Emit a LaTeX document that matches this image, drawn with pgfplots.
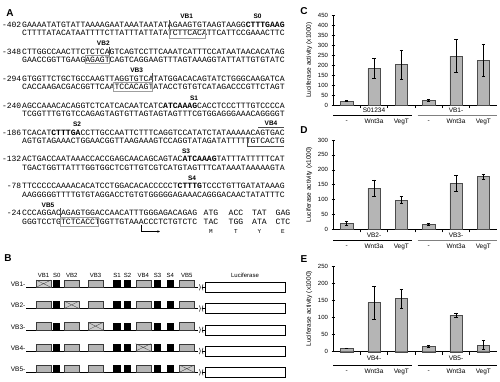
\documentclass[border=0pt]{standalone}
\usepackage{pgfplots}
\pgfplotsset{compat=1.18}
\usepackage{fontspec}
\setmainfont{Liberation Sans}
\newfontfamily\seqfont{Liberation Mono}
\usetikzlibrary{arrows.meta}
\newcommand\fs[1]{\fontsize{#1}{#1}\selectfont}
\newcommand\seqline[4]{%
  \node[anchor=base east,inner sep=0,font=\seqfont\fs{8}] at (21.5,{#1+2.4}) {#2};
  \node[anchor=base west,inner sep=0,font=\seqfont\fs{8.1}] at (22,{#1+2.4}) {#3};
  \node[anchor=base west,inner sep=0,font=\seqfont\fs{8.1}] at (22,{#1+10.9}) {#4};}
\pgfplotsset{
  lucbar/.style={
    scale only axis, width=164pt, clip=false,
    xmin=-0.5, xmax=5.5, ymin=0,
    axis x line=bottom, axis y line=left,
    axis line style={-, line width=0.6pt},
    xtick={0.5,1.5,2.5,3.5,4.5}, xticklabels={},
    tick align=center, major tick length=3pt,
    tick style={black, line width=0.5pt},
    /pgf/number format/assume math mode=true,
    yticklabel style={font=\fs{6}},
    ylabel={Luciferase activity (x1000)},
    every axis y label/.style={at={(axis description cs:-0.145,0.5)}, rotate=90, anchor=center, font=\fs{6.5}},
    ybar, bar width=12.5pt,
  },
  lucplot/.style={fill=gray!58, draw=black!70, line width=0.4pt,
    error bars/.cd, y dir=both, y explicit,
    error bar style={black, line width=0.5pt},
    error mark options={rotate=90, mark size=1.8pt, black, line width=0.5pt}},
}
\begin{document}
\begin{tikzpicture}
\path[use as bounding box] (0,0) rectangle (500pt,-381pt);
\begin{scope}[x=1pt,y=-1pt]
% ---------- Panel letters
\node[font=\bfseries\fs{10}] at (10,13) {A};
\node[font=\bfseries\fs{10}] at (8,258) {B};
\node[font=\bfseries\fs{10}] at (304,11) {C};
\node[font=\bfseries\fs{10}] at (304,130) {D};
\node[font=\bfseries\fs{10}] at (304,259) {E};
% ---------- Panel A
\begin{scope}[every node/.append style={font=\bfseries\fs{6.5}}]
\node at (186.7,16) {VB1};
\node at (257.5,16) {S0};
\node at (103.3,43) {VB2};
\node at (136.7,70.5) {VB3};
\node at (194,98) {S1};
\node at (77,124.5) {S2};
\node at (271,123.5) {VB4};
\node at (186,151.5) {S3};
\node at (192,178) {S4};
\node at (48,205) {VB5};
\end{scope}
\seqline{25}{-402}{GAAAATATGTATTAAAAGAATAAATAATATAGAAGTGTAAGTAAGG\textbf{CTTTGAAG}}{CTTTTATACATAATTTTCTTATTTATTATATCTTCACATTCATTCCGAAACTTC}
\seqline{51.9}{-348}{CTTGGCCAACTTCTCTCAGTCAGTCCTTCAAATCATTTCCATAATAACACATAG}{GAACCGGTTGAAGAGAGTCAGTCAGGAAGTTTAGTAAAGGTATTATTGTGTATC}
\seqline{78.8}{-294}{GTGGTTCTGCTGCCAAGTTAGGTGTCATATGGACACAGTATCTGGGCAAGATCA}{CACCAAGACGACGGTTCAATCCACAGTATACCTGTGTCATAGACCCGTTCTAGT}
\seqline{105.7}{-240}{AGCCAAACACAGGTCTCATCACAATCATC\textbf{ATCAAAG}CACCTCCCTTTGTCCCCA}{TCGGTTTGTGTCCAGAGTAGTGTTAGTAGTAGTTTCGTGGAGGGAAACAGGGGT}
\seqline{132.6}{-186}{TCACAT\textbf{CTTTGA}CCTTGCCAATTCTTTCAGGTCCATATCTATAAAAACAGTGAC}{AGTGTAGAAACTGGAACGGTTAAGAAAGTCCAGGTATAGATATTTTTGTCACTG}
\seqline{159.5}{-132}{ACTGACCAATAAACCACCGAGCAACAGCAGTAC\textbf{ATCAAAG}TATTTATTTTTCAT}{TGACTGGTTATTTGGTGGCTCGTTGTCGTCATGTAGTTTCATAAATAAAAAGTA}
\seqline{186.4}{-78}{TTCCCCCAAAACACATCCTGGACACACCCCCT\textbf{CTTTG}TCCCTGTTGATATAAAG}{AAGGGGGTTTTGTGTAGGACCTGTGTGGGGGAGAAACAGGGACAACTATATTTC}
\seqline{213.3}{-24}{CCCAGGACAGAGTGGACCAACATTTGGGAGACAGAG}{GGGTCCTGTCTCACCTGGTTGTAAACCCTCTGTCTC}
\begin{scope}[every node/.append style={anchor=base,inner sep=0,font=\seqfont\fs{8.1}}]
\node at (211,215.7) {ATG}; \node at (236,215.7) {ACC}; \node at (259.5,215.7) {TAT}; \node at (283,215.7) {GAG};
\node at (211,224.2) {TAC}; \node at (236,224.2) {TGG}; \node at (259.5,224.2) {ATA}; \node at (283,224.2) {CTC};
\end{scope}
\begin{scope}[every node/.append style={anchor=base,inner sep=0,font=\seqfont\fs{6}}]
\node at (211,233.5) {M}; \node at (236,233.5) {T}; \node at (259.5,233.5) {Y}; \node at (283,233.5) {E};
\end{scope}
\draw[-{Stealth[length=2.8pt,width=2.4pt]}, line width=0.6pt] (141.7,224.5) -- (141.7,231.5) -- (160,231.5);
% boxes around VB sites
\begin{scope}[gray!75, line width=0.4pt]
\draw[black!70] (169.5,20) -- (169.5,29.5);
\draw (169.5,29.5) rectangle (205,38.5);
\draw[black!70] (109.3,46.5) -- (109.3,55);
\draw (85,55) rectangle (109.3,63.5);
\draw[black!70] (151.7,73) -- (151.7,82.5);
\draw (113,82.5) rectangle (151.7,91.5);
\draw[black!70] (258,127.5) -- (284,127.5);
\draw[black!70] (247,137) -- (247,146.5) -- (284,146.5);
\draw[black!70] (60,208) -- (60,217.5);
\draw (60,217.5) rectangle (98,226.5);
\end{scope}
% ---------- Panel B
\begin{scope}[every node/.append style={font=\fs{6}}]
\node at (43.5,275.5) {VB1}; \node at (56.7,275.5) {S0}; \node at (71.7,275.5) {VB2};
\node at (95.5,275.5) {VB3}; \node at (117,275.5) {S1}; \node at (127.5,275.5) {S2};
\node at (143.2,275.5) {VB4}; \node at (157.5,275.5) {S3}; \node at (170.2,275.5) {S4};
\node at (186.8,275.5) {VB5}; \node at (245,275.5) {Luciferase};
\end{scope}
\foreach \r/\yy in {1/287.3,2/308.5,3/329.8,4/351,5/372.3}{
  \node[anchor=east,font=\fs{6.5},inner sep=0] at (25.5,\yy-2.8) {VB\r-};
  \draw[line width=0.6pt] (26,\yy) -- (198,\yy);
  \foreach \i/\a/\b in {1/36/51,2/64.3/79,3/88.3/102.7,4/135.7/150.7,5/179.3/194.3}{
    \ifnum\i=\r\relax
      \draw[fill=gray!40, draw=gray!50!black, line width=0.3pt] (\a,\yy-7.3) rectangle (\b,\yy);
      \draw[gray!45!black, line width=0.3pt] (\a,\yy-7.3) -- (\b,\yy) (\a,\yy) -- (\b,\yy-7.3);
    \else
      \draw[fill=gray!58, draw=gray!45!black, line width=0.3pt] (\a,\yy-7.3) rectangle (\b,\yy);
    \fi
  }
  \foreach \a/\b in {53.3/60,113.3/120.7,124/131,154/161,166.7/173.7}{
    \fill[black] (\a,\yy-7.3) rectangle (\b,\yy);
  }
  \draw[line width=0.5pt] (199.5,\yy-3) .. controls (200.6,\yy-1) and (200.6,\yy+1) .. (199.5,\yy+3);
  \draw[line width=0.5pt] (203,\yy-3) .. controls (201.9,\yy-1) and (201.9,\yy+1) .. (203,\yy+3);
  \draw[line width=0.6pt] (202.2,\yy) -- (205,\yy);
  \draw[line width=0.6pt, fill=white] (205,\yy-5) rectangle (285,\yy+5);
}
\end{scope}
% ---------- Panel C
\begin{axis}[lucbar, at={(333pt,-105pt)}, anchor=south west, height=90pt, ymax=450, ytick={0,50,...,450}]
\addplot[lucplot] table[x=x,y=y,y error=e]{
x y e
0 20 3
1 183 50
2 203 73
3 25 4
4 245 83
5 225 80
};
\begin{scope}[every node/.append style={font=\fs{6.5}}]
\node at ([yshift=-5.7pt]axis cs:1,0) {S01234};
\node at ([yshift=-5.7pt]axis cs:4,0) {VB1-};
\node at ([yshift=-16.7pt]axis cs:0,0) {-};
\node at ([yshift=-16.7pt]axis cs:1,0) {Wnt3a};
\node at ([yshift=-16.7pt]axis cs:2,0) {VegT};
\node at ([yshift=-16.7pt]axis cs:3,0) {-};
\node at ([yshift=-16.7pt]axis cs:4,0) {Wnt3a};
\node at ([yshift=-16.7pt]axis cs:5,0) {VegT};
\end{scope}
\draw[line width=0.5pt] ([yshift=-10.5pt]axis cs:-0.5,0) -- ([yshift=-10.5pt]axis cs:2.4,0);
\draw[line width=0.5pt, gray] ([yshift=-10.5pt]axis cs:2.6,0) -- ([yshift=-10.5pt]axis cs:5.5,0);
\end{axis}
% ---------- Panel D
\begin{axis}[lucbar, at={(333pt,-229.3pt)}, anchor=south west, height=89.3pt, ymax=300, ytick={0,50,...,300}]
\addplot[lucplot] table[x=x,y=y,y error=e]{
x y e
0 20 6
1 138 28
2 98 12
3 17 2
4 155 27
5 177 8
};
\begin{scope}[every node/.append style={font=\fs{6.5}}]
\node at ([yshift=-6pt]axis cs:1,0) {VB2-};
\node at ([yshift=-6pt]axis cs:4,0) {VB3-};
\node at ([yshift=-17.4pt]axis cs:0,0) {-};
\node at ([yshift=-17.4pt]axis cs:1,0) {Wnt3a};
\node at ([yshift=-17.4pt]axis cs:2,0) {VegT};
\node at ([yshift=-17.4pt]axis cs:3,0) {-};
\node at ([yshift=-17.4pt]axis cs:4,0) {Wnt3a};
\node at ([yshift=-17.4pt]axis cs:5,0) {VegT};
\end{scope}
\draw[line width=0.5pt] ([yshift=-11pt]axis cs:-0.5,0) -- ([yshift=-11pt]axis cs:2.4,0);
\draw[line width=0.5pt, gray] ([yshift=-11pt]axis cs:2.6,0) -- ([yshift=-11pt]axis cs:5.5,0);
\end{axis}
% ---------- Panel E
\begin{axis}[lucbar, at={(333pt,-351.7pt)}, anchor=south west, height=85.7pt, ymax=250, ytick={0,50,...,250}]
\addplot[lucplot] table[x=x,y=y,y error=e]{
x y e
0 10 1
1 143 47
2 155 28
3 15 3
4 107 6
5 19 13
};
\begin{scope}[every node/.append style={font=\fs{6.5}}]
\node at ([yshift=-6.6pt]axis cs:1,0) {VB4-};
\node at ([yshift=-6.6pt]axis cs:4,0) {VB5-};
\node at ([yshift=-20pt]axis cs:0,0) {-};
\node at ([yshift=-20pt]axis cs:1,0) {Wnt3a};
\node at ([yshift=-20pt]axis cs:2,0) {VegT};
\node at ([yshift=-20pt]axis cs:3,0) {-};
\node at ([yshift=-20pt]axis cs:4,0) {Wnt3a};
\node at ([yshift=-20pt]axis cs:5,0) {VegT};
\end{scope}
\draw[line width=0.5pt] ([yshift=-13.3pt]axis cs:-0.5,0) -- ([yshift=-13.3pt]axis cs:2.4,0);
\draw[line width=0.5pt] ([yshift=-13.3pt]axis cs:2.6,0) -- ([yshift=-13.3pt]axis cs:5.5,0);
\end{axis}
\end{tikzpicture}
\end{document}
